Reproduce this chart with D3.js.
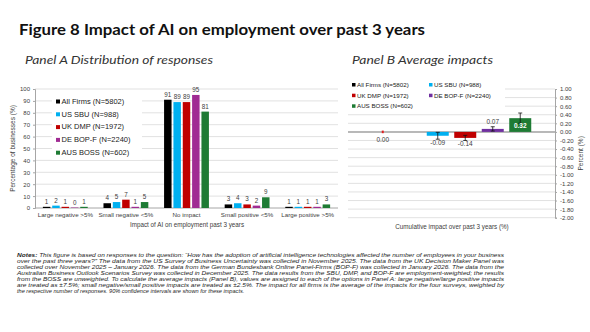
<!DOCTYPE html>
<html><head><meta charset="utf-8">
<script src="https://cdn.jsdelivr.net/npm/d3@7"></script>
<style>
html,body{margin:0;padding:0;background:#fff;}
svg{display:block;font-family:"Liberation Sans",Arial,sans-serif;}
</style></head>
<body>
<svg id="c" width="590" height="332"></svg>
<script>
// ---------- DATA ----------
const categoriesA = ["Large negative >5%","Small negative <5%","No impact","Small positive <5%","Large positive >5%"];
const seriesNames = ["All Firms (N=5802)","US SBU (N=988)","UK DMP (N=1972)","DE BOP-F (N=2240)","AUS BOSS (N=602)"];
const allFirmsA = [1, 4, 91, 3, 1];
const usSbuA    = [2, 5, 89, 4, 1];
const ukDmpA    = [1, 7, 89, 3, 1];
const deBopfA   = [0.4, 1, 95, 2, 1];
const ausBossA  = [1, 5, 81, 9, 3];
const yTicksA = [0,10,20,30,40,50,60,70,80,90,100];

const avgImpactB = [0.00, -0.09, -0.14, 0.07, 0.32];
const ciHalfB    = [0.03, 0.08, 0.06, 0.05, 0.12];
const yTicksB = d3.range(-10, 6).map(i => i / 5);

const colorsA = ["#000000","#00b0f0","#c00000","#a02b93","#1e7b34"];
const colorsB = ["#000000","#00b0f0","#c00000","#7030a0","#1e7b34"];

const notes = [
 ["Notes:", " This figure is based on responses to the question: \u201cHow has the adoption of artificial intelligence technologies affected the number of employees in your business"],
 ["", "over the past three years?\u201d The data from the US Survey of Business Uncertainty was collected in November 2025. The data from the UK Decision Maker Panel was"],
 ["", "collected over November 2025 \u2013 January 2026. The data from the German Bundesbank Online Panel-Firms (BOP-F) was collected in January 2026.  The data from the"],
 ["", "Australian Business Outlook Scenarios Survey was collected in December 2025. The data results from the SBU, DMP, and BOP-F are employment-weighted; the results"],
 ["", "from the BOSS are unweighted. To calculate the average impacts (Panel B), values are assigned to each of the options in Panel A: large negative/large positive impacts"],
 ["", "are treated as \u00b17.5%; small negative/small positive impacts are treated as \u00b12.5%. The impact for all firms is the average of the impacts for the four surveys, weighted by"],
 ["", "the respective number of responses. 90% confidence intervals are shown for these impacts."]
];

// ---------- DRAW ----------
const svg = d3.select("#c");
const seriesA = [allFirmsA, usSbuA, ukDmpA, deBopfA, ausBossA];

svg.append("text").attr("x",19).attr("y",35)
  .attr("font-family","Lato, 'DejaVu Sans', sans-serif").attr("font-weight",700)
  .attr("font-size",15.5).attr("fill","#111")
  .attr("textLength",406).attr("lengthAdjust","spacingAndGlyphs")
  .text("Figure 8 Impact of AI on employment over past 3 years");

svg.append("text").attr("x",25).attr("y",64)
  .attr("font-family","Lato, sans-serif").attr("font-style","italic").attr("font-size",11).attr("fill","#333")
  .attr("textLength",188).attr("lengthAdjust","spacingAndGlyphs")
  .text("Panel A Distribution of responses");
svg.append("text").attr("x",352).attr("y",64)
  .attr("font-family","Lato, sans-serif").attr("font-style","italic").attr("font-size",11).attr("fill","#333")
  .attr("textLength",141).attr("lengthAdjust","spacingAndGlyphs")
  .text("Panel B Average impacts");

// ---- Panel A ----
const yA = d3.scaleLinear().domain([0,100]).range([208,89]);
const x0 = d3.scaleBand().domain(categoriesA).range([35,338]).paddingInner(0.26).paddingOuter(0.13);
const x1 = d3.scaleBand().domain(seriesNames).range([0,x0.bandwidth()]).paddingInner(0.2);

const gA = svg.append("g");
gA.append("g").selectAll("line").data(yTicksA.filter(t=>t>0)).join("line")
  .attr("x1",35).attr("x2",338).attr("y1",d=>yA(d)).attr("y2",d=>yA(d))
  .attr("stroke","#d9d9d9").attr("stroke-width",0.8);

const axA = gA.append("g").attr("transform","translate(35,0)")
  .call(d3.axisLeft(yA).tickValues(yTicksA).tickSize(2).tickPadding(3));
axA.select(".domain").attr("stroke","#a6a6a6");
axA.selectAll(".tick line").attr("stroke","#a6a6a6");
axA.selectAll("text").attr("font-size",6).attr("fill","#404040").attr("font-family","Liberation Sans, Arial, sans-serif");

gA.append("line").attr("x1",35).attr("x2",338).attr("y1",yA(0)).attr("y2",yA(0))
  .attr("stroke","#a6a6a6").attr("stroke-width",1);

seriesNames.forEach((s,si)=>{
  const grp = gA.append("g");
  grp.selectAll("rect").data(categoriesA).join("rect")
    .attr("x",c=>x0(c)+x1(s)).attr("width",x1.bandwidth())
    .attr("y",(c,ci)=>yA(seriesA[si][ci])).attr("height",(c,ci)=>yA(0)-yA(seriesA[si][ci]))
    .attr("fill",colorsA[si]);
  grp.selectAll("text").data(categoriesA).join("text")
    .attr("x",c=>x0(c)+x1(s)+x1.bandwidth()/2)
    .attr("y",(c,ci)=>yA(seriesA[si][ci])-3)
    .attr("text-anchor","middle").attr("font-size",6.3).attr("fill","#404040")
    .text((c,ci)=>d3.format(".0f")(seriesA[si][ci]));
});

gA.append("g").selectAll("text").data(categoriesA).join("text")
  .attr("x",c=>x0(c)+x0.bandwidth()/2).attr("y",217)
  .attr("text-anchor","middle").attr("font-size",6.2).attr("fill","#404040").text(d=>d);
gA.append("text").attr("x",187).attr("y",227).attr("text-anchor","middle")
  .attr("font-size",6.3).attr("fill","#404040").text("Impact of AI on employment past 3 years");
gA.append("text").attr("transform",`translate(15,${(yA(0)+yA(100))/2}) rotate(-90)`)
  .attr("text-anchor","middle").attr("font-size",6.5).attr("fill","#404040")
  .text("Percentage of businesses (%)");

// legend A
const legA = gA.append("g");
legA.append("rect").attr("x",52).attr("y",96).attr("width",90).attr("height",64).attr("fill","#fff");
seriesNames.forEach((s,i)=>{
  const yy = 103 + i*12.8;
  legA.append("rect").attr("x",56).attr("y",yy-3.5).attr("width",4).attr("height",4).attr("fill",colorsA[i]);
  legA.append("text").attr("x",61.5).attr("y",yy+0.8).attr("font-size",7.5).attr("fill","#222").text(s);
});

// ---- Panel B ----
const slotsB = [seriesNames[0], "gap", ...seriesNames.slice(1)];
const yB = d3.scaleLinear().domain([-2,1]).range([217.7,89]);
const xB = d3.scaleBand().domain(slotsB).range([348,555]).paddingInner(0.2).paddingOuter(0.864);

const gB = svg.append("g");
gB.append("g").selectAll("line").data(yTicksB).join("line")
  .attr("x1",348).attr("x2",555).attr("y1",d=>yB(d)).attr("y2",d=>yB(d))
  .attr("stroke","#d9d9d9").attr("stroke-width",0.8);

const axB = gB.append("g").attr("transform","translate(555,0)")
  .call(d3.axisRight(yB).tickValues(yTicksB).tickSize(2).tickPadding(3).tickFormat(d3.format(".2f")));
axB.select(".domain").attr("stroke","#a6a6a6");
axB.selectAll(".tick line").attr("stroke","#a6a6a6");
axB.selectAll("text").attr("font-size",6).attr("fill","#404040").attr("font-family","Liberation Sans, Arial, sans-serif")
  .text(d=>d3.format(".2f")(d).replace("\u2212","-"));

// legend B (white bg hiding gridlines)
const legB = gB.append("g");
legB.append("rect").attr("x",348).attr("y",80).attr("width",157).attr("height",33).attr("fill","#fff");
const legPos = [[352,86],[429,86],[352,96.7],[429,96.7],[352,107.3]];
seriesNames.forEach((s,i)=>{
  const [lx,ly] = legPos[i];
  legB.append("rect").attr("x",lx).attr("y",ly-3).attr("width",3.5).attr("height",3.5).attr("fill",colorsB[i]);
  legB.append("text").attr("x",lx+5).attr("y",ly+0.8).attr("font-size",6.2).attr("fill","#222").text(s);
});

gB.append("line").attr("x1",348).attr("x2",555).attr("y1",yB(0)).attr("y2",yB(0))
  .attr("stroke","#a6a6a6").attr("stroke-width",1.5);

seriesNames.forEach((s,i)=>{
  const v = avgImpactB[i], h = ciHalfB[i];
  const cx = xB(s) + xB.bandwidth()/2;
  gB.append("rect").attr("x",xB(s)).attr("width",xB.bandwidth())
    .attr("y",yB(Math.max(0,v))).attr("height",Math.abs(yB(v)-yB(0)))
    .attr("fill",colorsB[i]);
  const ec = i===0 ? "#e02020" : "#111";
  const ew = i===0 ? 2 : 0.8;
  gB.append("line").attr("x1",cx).attr("x2",cx).attr("y1",yB(v+h)).attr("y2",yB(v-h))
    .attr("stroke",ec).attr("stroke-width",ew);
  if(i>0){
    [v+h, v-h].forEach(e=>{
      gB.append("line").attr("x1",cx-2).attr("x2",cx+2).attr("y1",yB(e)).attr("y2",yB(e))
        .attr("stroke",ec).attr("stroke-width",0.8);
    });
  }
  let ly, fill="#404040", fw=400;
  if(i===4){ ly = yB(v/2)+2.5; fill="#fff"; fw=700; }
  else if(v>0){ ly = yB(v+h)-2.5; }
  else if(i===0){ ly = yB(v)+10; }
  else { ly = yB(v-h)+6; }
  gB.append("text").attr("x",cx).attr("y",ly).attr("text-anchor","middle")
    .attr("font-size",6.5).attr("font-weight",fw).attr("fill",fill).text(d3.format(".2f")(v).replace("\u2212","-"));
});

gB.append("text").attr("x",452).attr("y",229).attr("text-anchor","middle")
  .attr("font-size",6.3).attr("fill","#404040").text("Cumulative impact over past 3 years (%)");
gB.append("text").attr("transform",`translate(583,${(yB(1)+yB(-2))/2}) rotate(-90)`)
  .attr("text-anchor","middle").attr("font-size",6.5).attr("fill","#404040").text("Percent (%)");

// ---- Notes ----
const gN = svg.append("g");
notes.forEach((ln,i)=>{
  const t = gN.append("text").attr("x",17).attr("y",257+i*6.05)
    .attr("font-size",5.6).attr("font-style","italic").attr("fill","#262626");
  if(i<6) t.attr("textLength",487).attr("lengthAdjust","spacingAndGlyphs");
  if(ln[0]) t.append("tspan").attr("font-weight",700).text(ln[0]);
  t.append("tspan").text(ln[1]);
});
</script>
</body></html>
